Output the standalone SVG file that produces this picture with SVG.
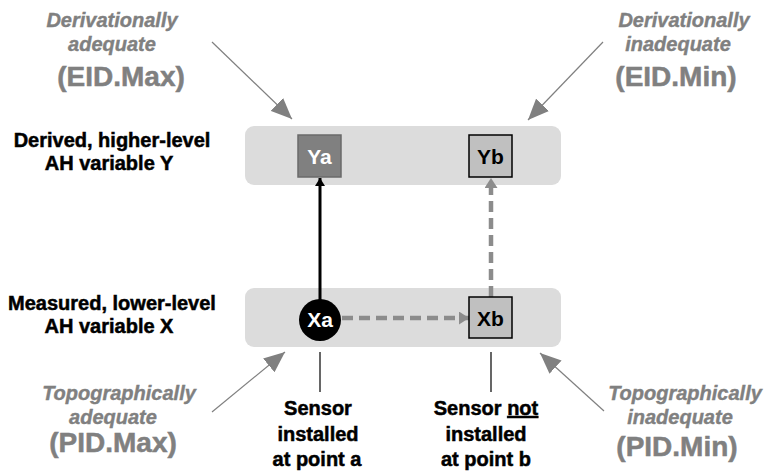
<svg xmlns="http://www.w3.org/2000/svg" width="768" height="471" viewBox="0 0 768 471">
<defs>
<style>
.lbl{font-family:"Liberation Sans",Arial,sans-serif;font-weight:bold;font-size:20px;fill:#000;stroke:#000;stroke-width:0.5;text-anchor:middle}
.gi{font-family:"Liberation Sans",Arial,sans-serif;font-weight:bold;font-style:italic;font-size:20px;fill:#808080;stroke:#808080;stroke-width:0.4;text-anchor:middle}
.gb{font-family:"Liberation Sans",Arial,sans-serif;font-weight:bold;font-size:28px;fill:#808080;stroke:#808080;stroke-width:0.5;text-anchor:middle}
.nt{font-family:"Liberation Sans",Arial,sans-serif;font-weight:bold;font-size:21px;text-anchor:middle}
.band{fill:#dcdcdc}
.garr{stroke:#808080;stroke-width:1.2;fill:none}
.dash{stroke:#8c8c8c;stroke-width:4.5;stroke-dasharray:11 6;fill:none}
.tick{stroke:#000;stroke-width:1.2}
</style>
<marker id="bigG" markerUnits="userSpaceOnUse" markerWidth="22" markerHeight="18" refX="21" refY="9" orient="auto">
<path d="M0,0 L21,9 L0,18 z" fill="#808080"/>
</marker>
<marker id="smG" markerUnits="userSpaceOnUse" markerWidth="11" markerHeight="13" refX="10" refY="6.5" orient="auto">
<path d="M0,0 L10,6.5 L0,13 z" fill="#8c8c8c"/>
</marker>
<marker id="smK" markerUnits="userSpaceOnUse" markerWidth="9" markerHeight="10" refX="8" refY="5" orient="auto">
<path d="M0,0 L8,5 L0,10 z" fill="#000"/>
</marker>
</defs>
<rect width="768" height="471" fill="#fff"/>

<g id="band-top"><rect class="band" x="245" y="126" width="316" height="59" rx="9"/></g>
<g id="band-bottom"><rect class="band" x="245" y="288" width="316" height="59" rx="9"/></g>

<g id="label-derived">
<text class="lbl" x="112" y="147">Derived, higher-level</text>
<text class="lbl" x="109" y="170">AH variable Y</text>
</g>
<g id="label-measured">
<text class="lbl" x="112" y="310">Measured, lower-level</text>
<text class="lbl" x="109" y="333">AH variable X</text>
</g>

<g id="eid-max">
<text class="gi" x="112" y="27">Derivationally</text>
<text class="gi" x="112" y="51">adequate</text>
<text class="gb" x="121" y="86">(EID.Max)</text>
</g>
<g id="eid-min">
<text class="gi" x="684" y="27">Derivationally</text>
<text class="gi" x="678" y="51">inadequate</text>
<text class="gb" x="676" y="86">(EID.Min)</text>
</g>
<g id="pid-max">
<text class="gi" x="119" y="400">Topographically</text>
<text class="gi" x="113" y="424">adequate</text>
<text class="gb" x="113" y="452">(PID.Max)</text>
</g>
<g id="pid-min">
<text class="gi" x="685" y="400">Topographically</text>
<text class="gi" x="680" y="424">inadequate</text>
<text class="gb" x="677" y="456">(PID.Min)</text>
</g>

<g id="connectors">
<line class="garr" x1="212" y1="42" x2="292" y2="119" marker-end="url(#bigG)"/>
<line class="garr" x1="603" y1="42" x2="528" y2="120" marker-end="url(#bigG)"/>
<line class="garr" x1="212" y1="412" x2="285" y2="352" marker-end="url(#bigG)"/>
<line class="garr" x1="604" y1="411" x2="540" y2="353" marker-end="url(#bigG)"/>
<line x1="320" y1="300" x2="320" y2="178" stroke="#000" stroke-width="3" marker-end="url(#smK)"/>
<line class="dash" x1="342" y1="318" x2="469" y2="318" marker-end="url(#smG)"/>
<line class="dash" x1="491" y1="297" x2="491" y2="178" marker-end="url(#smG)"/>
<line class="tick" x1="320" y1="352" x2="320" y2="392"/>
<line class="tick" x1="491" y1="352" x2="491" y2="392"/>
</g>

<g id="Ya">
<rect x="298" y="135" width="43" height="42" fill="#808080" stroke="#6a6a6a" stroke-width="1.5"/>
<text class="nt" x="319.5" y="164" fill="#fff">Ya</text>
</g>
<g id="Yb">
<rect x="469" y="135" width="43" height="42" fill="#c0c0c0" stroke="#000" stroke-width="1.5"/>
<text class="nt" x="490.5" y="164" fill="#000">Yb</text>
</g>
<g id="Xa">
<circle cx="320" cy="320" r="21" fill="#000"/>
<text class="nt" x="320" y="327" fill="#fff">Xa</text>
</g>
<g id="Xb">
<rect x="469" y="297" width="43" height="41" fill="#c0c0c0" stroke="#000" stroke-width="1.5"/>
<text class="nt" x="490.5" y="326" fill="#000">Xb</text>
</g>

<g id="sensor-a">
<text class="lbl" x="318" y="415">Sensor</text>
<text class="lbl" x="318" y="441">installed</text>
<text class="lbl" x="317" y="466">at point a</text>
</g>
<g id="sensor-b">
<text class="lbl" x="486" y="415">Sensor <tspan text-decoration="underline">not</tspan></text>
<text class="lbl" x="486" y="441">installed</text>
<text class="lbl" x="486" y="466">at point b</text>
</g>
</svg>
